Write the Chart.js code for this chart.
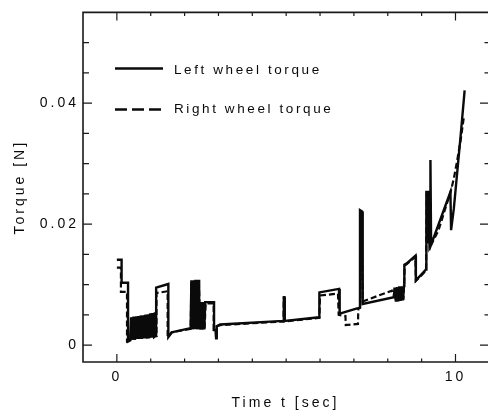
<!DOCTYPE html>
<html>
<head>
<meta charset="utf-8">
<script src="https://cdn.jsdelivr.net/npm/chart.js@4.4.0/dist/chart.umd.min.js"></script>
<style>
  html, body { margin: 0; padding: 0; background: #ffffff; overflow: hidden; }
  canvas { display: block; }
</style>
</head>
<body>
<canvas id="c" width="488" height="416"></canvas>
<script>
// ---------------- DATA ----------------
const seriesNames = ['Left wheel torque', 'Right wheel torque'];

const leftTime = [
  0.00, 0.14, 0.14, 0.33, 0.33, 0.40, 0.42, 0.46, 0.49, 0.53, 0.56, 0.60, 0.63, 0.67, 0.70, 0.74,
  0.77, 0.81, 0.84, 0.88, 0.91, 0.95, 0.98, 1.02, 1.05, 1.09, 1.12, 1.14, 1.16, 1.16, 1.52, 1.52,
  1.56, 1.62, 2.18, 2.20, 2.23, 2.26, 2.29, 2.32, 2.35, 2.38, 2.41, 2.43, 2.43, 2.46, 2.49, 2.52,
  2.55, 2.58, 2.61, 2.87, 2.87, 2.92, 2.93, 2.95, 3.05, 4.92, 4.93, 4.95, 4.96, 5.97, 5.98, 6.56,
  6.58, 7.12, 7.17, 7.18, 7.24, 7.26, 8.18, 8.20, 8.24, 8.27, 8.31, 8.34, 8.38, 8.41, 8.45, 8.48,
  8.49, 8.56, 8.82, 8.83, 9.13, 9.14, 9.19, 9.20, 9.25, 9.26, 9.28, 9.85, 9.87, 9.95, 10.05, 10.15,
  10.27
];
const leftTorque = [
  0.0141, 0.0141, 0.0103, 0.0103, 0.0006, 0.0008, 0.0046, 0.0009, 0.0047, 0.0009, 0.0047, 0.0010, 0.0048, 0.0010, 0.0049, 0.0010,
  0.0049, 0.0011, 0.0050, 0.0011, 0.0051, 0.0011, 0.0052, 0.0012, 0.0053, 0.0012, 0.0054, 0.0015, 0.0015, 0.0095, 0.0101, 0.0013,
  0.0016, 0.0021, 0.0028, 0.0107, 0.0026, 0.0107, 0.0026, 0.0108, 0.0026, 0.0108, 0.0026, 0.0108, 0.0071, 0.0026, 0.0071, 0.0026,
  0.0071, 0.0026, 0.0071, 0.0071, 0.0025, 0.0025, 0.0011, 0.0031, 0.0034, 0.0040, 0.0079, 0.0079, 0.0040, 0.0046, 0.0087, 0.0093,
  0.0052, 0.0061, 0.0062, 0.0223, 0.0221, 0.0068, 0.0079, 0.0095, 0.0072, 0.0096, 0.0072, 0.0097, 0.0073, 0.0097, 0.0074, 0.0098,
  0.0133, 0.0135, 0.0148, 0.0107, 0.0125, 0.0253, 0.0253, 0.0170, 0.0170, 0.0306, 0.0166, 0.0253, 0.0190, 0.0225, 0.0285, 0.0345,
  0.0421
];

const rightTime = [
  0.00, 0.12, 0.12, 0.30, 0.30, 0.40, 0.43, 0.47, 0.50, 0.54, 0.57, 0.61, 0.64, 0.68, 0.71, 0.75,
  0.78, 0.82, 0.85, 0.89, 0.92, 0.96, 0.99, 1.03, 1.06, 1.10, 1.14, 1.17, 1.17, 1.50, 1.50, 1.56,
  1.62, 2.18, 2.20, 2.24, 2.27, 2.31, 2.34, 2.38, 2.42, 2.44, 2.47, 2.50, 2.53, 2.56, 2.59, 2.62,
  2.86, 2.86, 2.92, 2.93, 2.95, 3.05, 4.92, 4.93, 4.95, 4.96, 5.98, 6.00, 6.53, 6.55, 6.75, 6.76,
  7.12, 7.13, 7.18, 7.20, 7.23, 7.26, 8.12, 8.18, 8.21, 8.25, 8.28, 8.32, 8.35, 8.39, 8.42, 8.46,
  8.48, 8.50, 8.82, 8.83, 9.13, 9.15, 9.21, 9.23, 9.50, 9.70, 9.85, 9.95, 10.05, 10.15, 10.25
];
const rightTorque = [
  0.0128, 0.0128, 0.0088, 0.0088, 0.0006, 0.0008, 0.0045, 0.0009, 0.0046, 0.0009, 0.0047, 0.0010, 0.0048, 0.0010, 0.0048, 0.0011,
  0.0049, 0.0011, 0.0050, 0.0011, 0.0051, 0.0012, 0.0052, 0.0012, 0.0053, 0.0013, 0.0015, 0.0015, 0.0086, 0.0089, 0.0013, 0.0017,
  0.0021, 0.0027, 0.0105, 0.0026, 0.0105, 0.0026, 0.0106, 0.0026, 0.0106, 0.0069, 0.0026, 0.0069, 0.0026, 0.0069, 0.0026, 0.0069,
  0.0069, 0.0025, 0.0025, 0.0012, 0.0031, 0.0033, 0.0039, 0.0077, 0.0077, 0.0039, 0.0045, 0.0082, 0.0085, 0.0050, 0.0048, 0.0033,
  0.0035, 0.0060, 0.0062, 0.0220, 0.0219, 0.0072, 0.0090, 0.0082, 0.0094, 0.0073, 0.0095, 0.0073, 0.0096, 0.0074, 0.0096, 0.0075,
  0.0097, 0.0131, 0.0146, 0.0106, 0.0123, 0.0250, 0.0250, 0.0160, 0.0190, 0.0226, 0.0252, 0.0275, 0.0305, 0.0338, 0.0378
];

const xTickValues = [0, 10];
const xTickLabels = ['0', '10'];
const xMinorTicks = [1, 2, 3, 4, 5, 6, 7, 8, 9];
const yTickValues = [0, 0.02, 0.04];
const yTickLabels = ['0', '0.02', '0.04'];
const yMinorTicks = [0.005, 0.01, 0.015, 0.025, 0.03, 0.035, 0.045, 0.05];

const xTitle = 'Time t [sec]';
const yTitle = 'Torque [N]';

// ---------------- BUILD ----------------
const toPoints = (ts, vs) => ts.map((t, i) => ({ x: t, y: vs[i] }));
const FONT = 'Liberation Sans, Arial, Helvetica, sans-serif';
const INK = '#0a0a0a';

const spacingPlugin = {
  id: 'spacing',
  beforeDraw(chart) { chart.ctx.letterSpacing = '3px'; }
};

const framePlugin = {
  id: 'frame',
  afterDraw(chart) {
    const { ctx, chartArea: a, scales: { x, y } } = chart;
    ctx.save();
    ctx.strokeStyle = '#1a1a1a';
    ctx.lineWidth = 1.6;
    ctx.setLineDash([]);
    ctx.beginPath();
    ctx.moveTo(a.right + 2, a.top);
    ctx.lineTo(a.left, a.top);
    ctx.lineTo(a.left, a.bottom);
    ctx.lineTo(a.right + 2, a.bottom);
    ctx.stroke();
    ctx.lineWidth = 1.2;
    ctx.beginPath();
    const vTick = (px, len) => {
      ctx.moveTo(px, a.bottom); ctx.lineTo(px, a.bottom - len);
      ctx.moveTo(px, a.top); ctx.lineTo(px, a.top + len);
    };
    const hTick = (py, lenL, lenR) => {
      ctx.moveTo(a.left, py); ctx.lineTo(a.left + lenL, py);
      ctx.moveTo(a.right, py); ctx.lineTo(a.right - lenR, py);
    };
    xTickValues.forEach(v => vTick(x.getPixelForValue(v), 8));
    xMinorTicks.forEach(v => vTick(x.getPixelForValue(v), 3.5));
    yTickValues.forEach(v => hTick(y.getPixelForValue(v), 9, 8));
    yMinorTicks.forEach(v => hTick(y.getPixelForValue(v), 6, 3.5));
    ctx.stroke();

    // legend
    ctx.strokeStyle = INK;
    ctx.lineWidth = 2.3;
    ctx.beginPath(); ctx.moveTo(115, 68.5); ctx.lineTo(163, 68.5); ctx.stroke();
    ctx.setLineDash([12, 5]);
    ctx.beginPath(); ctx.moveTo(115, 109.5); ctx.lineTo(163, 109.5); ctx.stroke();
    ctx.setLineDash([]);
    ctx.fillStyle = INK;
    ctx.font = '13.5px ' + FONT;
    ctx.letterSpacing = '2.6px';
    ctx.textAlign = 'left';
    ctx.textBaseline = 'alphabetic';
    ctx.fillText(seriesNames[0], 174, 73.5);
    ctx.fillText(seriesNames[1], 174, 112.5);
    ctx.restore();
  }
};

new Chart(document.getElementById('c'), {
  type: 'line',
  data: {
    datasets: [
      {
        label: seriesNames[0],
        data: toPoints(leftTime, leftTorque),
        borderColor: INK, borderWidth: 2.4, pointRadius: 0, tension: 0,
        fill: false, borderJoinStyle: 'miter'
      },
      {
        label: seriesNames[1],
        data: toPoints(rightTime, rightTorque),
        borderColor: INK, borderWidth: 2.2, borderDash: [6, 3], pointRadius: 0, tension: 0,
        fill: false
      }
    ]
  },
  options: {
    responsive: false,
    animation: false,
    events: [],
    layout: { padding: { top: 7, left: 0, right: 0, bottom: 0 } },
    plugins: { legend: { display: false }, tooltip: { enabled: false } },
    scales: {
      x: {
        type: 'linear', min: -1, max: 10.96,
        grid: { display: false, drawTicks: false },
        border: { display: false },
        afterBuildTicks: s => { s.ticks = xTickValues.map(v => ({ value: v })); },
        afterFit: s => { s.height = 54; },
        ticks: {
          autoSkip: false, maxRotation: 0, padding: 7, color: INK,
          font: { family: FONT, size: 14 },
          callback: v => xTickLabels[xTickValues.indexOf(v)]
        },
        title: {
          display: true, text: xTitle, color: INK,
          font: { family: FONT, size: 14 },
          padding: { top: 0, bottom: 4 }
        }
      },
      y: {
        type: 'linear', min: -0.0028, max: 0.055,
        grid: { display: false, drawTicks: false },
        border: { display: false },
        afterBuildTicks: s => { s.ticks = yTickValues.map(v => ({ value: v })); },
        afterFit: s => { s.width = 83; },
        ticks: {
          autoSkip: false, padding: 4, color: INK,
          font: { family: FONT, size: 14 },
          callback: v => yTickLabels[yTickValues.indexOf(v)]
        },
        title: {
          display: true, text: yTitle, color: INK,
          font: { family: FONT, size: 14 },
          padding: { top: 12, bottom: 0 }
        }
      }
    }
  },
  plugins: [spacingPlugin, framePlugin]
});
</script>
</body>
</html>
